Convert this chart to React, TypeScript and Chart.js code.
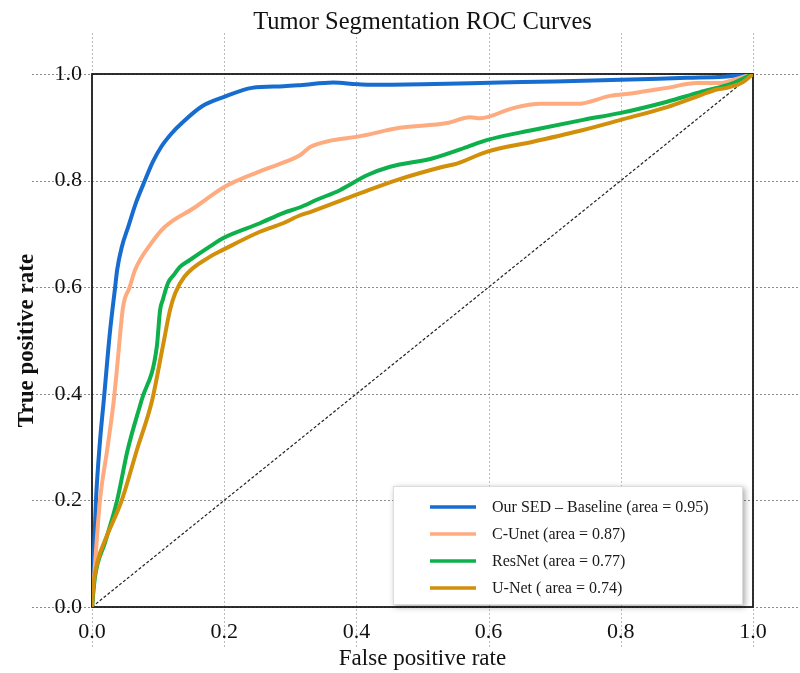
import React, { useEffect, useRef } from "react";
import { Chart, registerables } from "chart.js";

Chart.register(...registerables);

const TITLE = "Tumor Segmentation ROC Curves";
const X_TITLE = "False positive rate";
const Y_TITLE = "True positive rate";
const TICKS = [0, 0.2, 0.4, 0.6, 0.8, 1.0];

const SERIES_LABELS = [
  "Our SED \u2013 Baseline (area = 0.95)",
  "C-Unet (area = 0.87)",
  "ResNet (area = 0.77)",
  "U-Net ( area = 0.74)",
];
const SERIES_COLORS = ["#176ccf", "#ffab80", "#0db04b", "#d18f0a"];

const SED_FPR = [0, 0.002, 0.006, 0.012, 0.018, 0.027, 0.035, 0.038, 0.045, 0.055, 0.067, 0.08, 0.092, 0.105, 0.12, 0.136, 0.166, 0.2, 0.242, 0.29, 0.315, 0.365, 0.4, 0.42, 0.5, 0.617, 0.7, 0.8, 0.9, 0.955, 1];
const SED_TPR = [0, 0.07, 0.2, 0.31, 0.39, 0.514, 0.6, 0.632, 0.675, 0.714, 0.76, 0.8, 0.835, 0.864, 0.888, 0.908, 0.939, 0.957, 0.974, 0.977, 0.979, 0.984, 0.981, 0.98, 0.981, 0.984, 0.986, 0.989, 0.993, 0.995, 1];

const CUNET_FPR = [0, 0.004, 0.012, 0.023, 0.033, 0.038, 0.047, 0.057, 0.065, 0.09, 0.11, 0.156, 0.2, 0.251, 0.292, 0.315, 0.33, 0.365, 0.4, 0.466, 0.537, 0.572, 0.587, 0.637, 0.678, 0.734, 0.784, 0.818, 0.87, 0.915, 0.95, 0.97, 1];
const CUNET_TPR = [0, 0.07, 0.2, 0.295, 0.388, 0.45, 0.563, 0.6, 0.632, 0.683, 0.713, 0.75, 0.788, 0.816, 0.835, 0.848, 0.863, 0.876, 0.882, 0.899, 0.908, 0.919, 0.917, 0.936, 0.944, 0.944, 0.959, 0.964, 0.974, 0.983, 0.983, 0.989, 1];

const RESNET_FPR = [0, 0.0045, 0.02, 0.038, 0.054, 0.075, 0.098, 0.103, 0.107, 0.115, 0.125, 0.133, 0.148, 0.178, 0.198, 0.254, 0.289, 0.315, 0.34, 0.375, 0.416, 0.451, 0.516, 0.567, 0.597, 0.667, 0.743, 0.8, 0.87, 0.92, 0.955, 0.97, 1];
const RESNET_TPR = [0, 0.056, 0.122, 0.2, 0.295, 0.388, 0.488, 0.557, 0.576, 0.608, 0.625, 0.638, 0.651, 0.676, 0.692, 0.72, 0.739, 0.75, 0.764, 0.782, 0.81, 0.826, 0.842, 0.863, 0.876, 0.895, 0.914, 0.927, 0.948, 0.966, 0.977, 0.983, 1];

const UNET_FPR = [0, 0.002, 0.009, 0.02, 0.045, 0.068, 0.091, 0.107, 0.118, 0.126, 0.14, 0.178, 0.198, 0.254, 0.289, 0.315, 0.33, 0.39, 0.405, 0.461, 0.531, 0.552, 0.597, 0.667, 0.743, 0.8, 0.87, 0.92, 0.945, 0.96, 0.985, 1];
const UNET_TPR = [0, 0.038, 0.088, 0.126, 0.2, 0.295, 0.388, 0.488, 0.557, 0.589, 0.62, 0.657, 0.67, 0.704, 0.72, 0.735, 0.741, 0.769, 0.776, 0.801, 0.826, 0.832, 0.854, 0.873, 0.895, 0.914, 0.938, 0.96, 0.971, 0.974, 0.985, 1];

const CHANCE_X = [0, 1];
const CHANCE_Y = [0, 1];

const SERIES_X = [SED_FPR, CUNET_FPR, RESNET_FPR, UNET_FPR];
const SERIES_Y = [SED_TPR, CUNET_TPR, RESNET_TPR, UNET_TPR];

const FONT = "'Liberation Serif', 'Times New Roman', serif";

const zip = (xs: number[], ys: number[]) => xs.map((x, i) => ({ x, y: ys[i] }));

const decorPlugin = {
  id: "decor",
  beforeDraw(chart: any) {
    const { ctx, chartArea } = chart;
    const xs = chart.scales.x;
    const ys = chart.scales.y;
    ctx.save();
    ctx.lineWidth = 1;
    ctx.setLineDash([2, 2]);
    ctx.strokeStyle = "#bdbdbd";
    for (const v of TICKS) {
      const px = Math.round(xs.getPixelForValue(v)) + 0.5;
      ctx.beginPath();
      ctx.moveTo(px, chartArea.top - 41);
      ctx.lineTo(px, chartArea.bottom + 40);
      ctx.stroke();
    }
    ctx.strokeStyle = "#8c8c8c";
    for (const v of TICKS) {
      const py = Math.round(ys.getPixelForValue(v)) + 0.5;
      ctx.beginPath();
      ctx.moveTo(chartArea.left - 60, py);
      ctx.lineTo(chart.width, py);
      ctx.stroke();
    }
    ctx.restore();
  },
  beforeDatasetsDraw(chart: any) {
    const { ctx, chartArea } = chart;
    ctx.save();
    ctx.strokeStyle = "#1a1a1a";
    ctx.lineWidth = 1.8;
    ctx.strokeRect(chartArea.left, chartArea.top, chartArea.right - chartArea.left, chartArea.bottom - chartArea.top);
    ctx.restore();
  },
  afterDraw(chart: any) {
    const { ctx, chartArea } = chart;
    const w = 350;
    const h = 119;
    const bx = chartArea.right - 10 - w;
    const by = chartArea.bottom - 2 - h;
    ctx.save();
    ctx.shadowColor = "rgba(0,0,0,0.35)";
    ctx.shadowBlur = 6;
    ctx.shadowOffsetX = 2;
    ctx.shadowOffsetY = 2;
    ctx.fillStyle = "#ffffff";
    ctx.fillRect(bx, by, w, h);
    ctx.restore();
    ctx.save();
    ctx.strokeStyle = "#dddddd";
    ctx.lineWidth = 1;
    ctx.strokeRect(bx + 0.5, by + 0.5, w - 1, h - 1);
    ctx.font = `16px ${FONT}`;
    ctx.textBaseline = "middle";
    ctx.textAlign = "left";
    SERIES_LABELS.forEach((label, i) => {
      const ry = by + 21 + i * 27;
      ctx.strokeStyle = SERIES_COLORS[i];
      ctx.lineWidth = 3.5;
      ctx.beginPath();
      ctx.moveTo(bx + 37, ry);
      ctx.lineTo(bx + 83, ry);
      ctx.stroke();
      ctx.fillStyle = "#1a1a1a";
      ctx.fillText(label, bx + 99, ry + 1);
    });
    ctx.restore();
  },
};

export default function App() {
  const canvasRef = useRef<HTMLCanvasElement | null>(null);

  useEffect(() => {
    if (!canvasRef.current) return;
    const datasets: any[] = SERIES_LABELS.map((label, i) => ({
      label,
      data: zip(SERIES_X[i], SERIES_Y[i]),
      borderColor: SERIES_COLORS[i],
      backgroundColor: SERIES_COLORS[i],
      borderWidth: 4,
      pointRadius: 0,
      fill: false,
      cubicInterpolationMode: "monotone",
      order: 4 - i,
    }));
    datasets.push({
      label: "chance",
      data: zip(CHANCE_X, CHANCE_Y),
      borderColor: "#222222",
      borderWidth: 1.2,
      borderDash: [3, 2],
      pointRadius: 0,
      fill: false,
      order: 10,
    });

    const tickFont = { family: FONT, size: 22 };
    const chart = new Chart(canvasRef.current, {
      type: "line",
      data: { datasets },
      plugins: [decorPlugin],
      options: {
        animation: false,
        responsive: true,
        maintainAspectRatio: false,
        layout: { padding: { left: 0, right: 47, top: 0, bottom: 0 } },
        plugins: {
          legend: { display: false },
          tooltip: { enabled: false },
          title: {
            display: true,
            text: TITLE,
            fullSize: false,
            color: "#111111",
            font: { family: FONT, size: 24.5, weight: "normal", lineHeight: 1.2 },
            padding: { top: 8, bottom: 36.6 },
          },
        },
        scales: {
          x: {
            type: "linear",
            min: 0,
            max: 1,
            grid: { display: false, drawTicks: false },
            border: { display: false },
            ticks: {
              stepSize: 0.2,
              padding: 12,
              color: "#111111",
              font: tickFont,
              callback: (v: any) => Number(v).toFixed(1),
            },
            title: {
              display: true,
              text: X_TITLE,
              color: "#111111",
              font: { family: FONT, size: 23 },
              padding: { top: 0, bottom: 0 },
            },
            afterFit: (s: any) => {
              s.height = 66;
            },
          },
          y: {
            type: "linear",
            min: 0,
            max: 1,
            grid: { display: false, drawTicks: false },
            border: { display: false },
            ticks: {
              stepSize: 0.2,
              padding: 10,
              color: "#111111",
              font: tickFont,
              callback: (v: any) => Number(v).toFixed(1),
            },
            title: {
              display: true,
              text: Y_TITLE,
              color: "#111111",
              font: { family: FONT, size: 23, weight: "bold" },
              padding: { top: 13, bottom: 0 },
            },
            afterFit: (s: any) => {
              s.width = 92;
            },
          },
        },
      } as any,
    });
    return () => chart.destroy();
  }, []);

  return (
    <div style={{ position: "fixed", left: 0, top: 0, width: 800, height: 673, background: "#ffffff" }}>
      <canvas ref={canvasRef} />
    </div>
  );
}
